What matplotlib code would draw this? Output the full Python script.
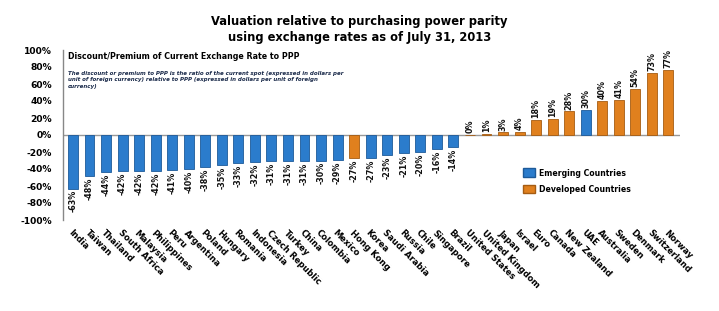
import matplotlib
matplotlib.use("Agg")
import matplotlib.pyplot as plt
from matplotlib.patches import Patch

countries = ["India", "Taiwan", "Thailand", "South Africa", "Malaysia", "Philippines", "Peru",
             "Argentina", "Poland", "Hungary", "Romania", "Indonesia", "Czech Republic", "Turkey",
             "China", "Colombia", "Mexico", "Hong Kong", "Korea", "Saudi Arabia", "Russia", "Chile",
             "Singapore", "Brazil", "United States", "United Kingdom", "Japan", "Israel", "Euro",
             "Canada", "New Zealand", "UAE", "Australia", "Sweden", "Denmark", "Switzerland", "Norway"]
values = [-63, -48, -44, -42, -42, -42, -41, -40, -38, -35, -33, -32, -31, -31, -31, -30, -29,
          -27, -27, -23, -21, -20, -16, -14, 0, 1, 3, 4, 18, 19, 28, 30, 40, 41, 54, 73, 77]
groups = ["E"] * 17 + ["D"] + ["E"] * 6 + ["D"] * 7 + ["E"] + ["D"] * 5
yticks = [-100, -80, -60, -40, -20, 0, 20, 40, 60, 80, 100]

BLUE = "#2b7ccc"
BLUE_EDGE = "#1d5a99"
ORANGE = "#e0801e"
ORANGE_EDGE = "#a55c12"

fig = plt.figure(figsize=(7.19, 3.11), dpi=100)
ax = fig.add_axes([63/719, 1 - 220/311, (680-63)/719, (220-50)/311])

x = list(range(len(countries)))
colors = [BLUE if g == "E" else ORANGE for g in groups]
edges = [BLUE_EDGE if g == "E" else ORANGE_EDGE for g in groups]
ax.bar(x, values, width=0.6, color=colors, edgecolor=edges, linewidth=0.6, zorder=2)

for xi, v in zip(x, values):
    if v < 0:
        ax.text(xi, v - 2, f"{v}%", rotation=90, ha="center", va="top",
                fontsize=5.8, fontweight="bold", color="#111111")
    else:
        ax.text(xi, v + 2, f"{v}%", rotation=90, ha="center", va="bottom",
                fontsize=5.8, fontweight="bold", color="#111111")

ax.set_xlim(-0.6, len(countries) - 0.3)
ax.set_ylim(-100, 100)
ax.set_yticks(yticks)
ax.set_yticklabels([f"{t}%" for t in yticks], fontsize=6.6, fontweight="bold")
ax.tick_params(axis="y", length=0, pad=8)
ax.set_xticks(x)
ax.set_xticklabels(countries, rotation=-45, ha="left", va="top", rotation_mode="anchor",
                   fontsize=6.1, fontweight="bold")
ax.tick_params(axis="x", length=0, pad=6)
for s in ["top", "right", "bottom"]:
    ax.spines[s].set_visible(False)
ax.spines["left"].set_color("#888888")
ax.spines["left"].set_linewidth(1.0)
ax.axhline(0, color="#999999", linewidth=1.0, zorder=1)

fig.text(0.5, 1 - 29/311, "Valuation relative to purchasing power parity\nusing exchange rates as of July 31, 2013",
         ha="center", va="center", fontsize=8.3, fontweight="bold", linespacing=1.3)
ax.text(68/719, 1 - 57/311, "Discount/Premium of Current Exchange Rate to PPP", transform=fig.transFigure,
        ha="left", va="center", fontsize=5.7, fontweight="bold")
ax.text(68/719, 1 - 80/311,
        "The discount or premium to PPP is the ratio of the current spot (expressed in dollars per\n"
        "unit of foreign currency) relative to PPP (expressed in dollars per unit of foreign\n"
        "currency)", transform=fig.transFigure, ha="left", va="center", fontsize=4.0,
        fontweight="bold", style="italic", color="#1a2a4a", linespacing=1.3)

handles = [Patch(facecolor=BLUE, edgecolor=BLUE_EDGE), Patch(facecolor=ORANGE, edgecolor=ORANGE_EDGE)]
fig.legend(handles, ["Emerging Countries", "Developed Countries"], loc="center left",
           bbox_to_anchor=(516/719, 1 - 181/311), frameon=False,
           prop={"weight": "bold", "size": 5.6}, handlelength=1.6, handleheight=1.4,
           labelspacing=0.9, handletextpad=0.5)

fig.savefig("out.png", dpi=100)
